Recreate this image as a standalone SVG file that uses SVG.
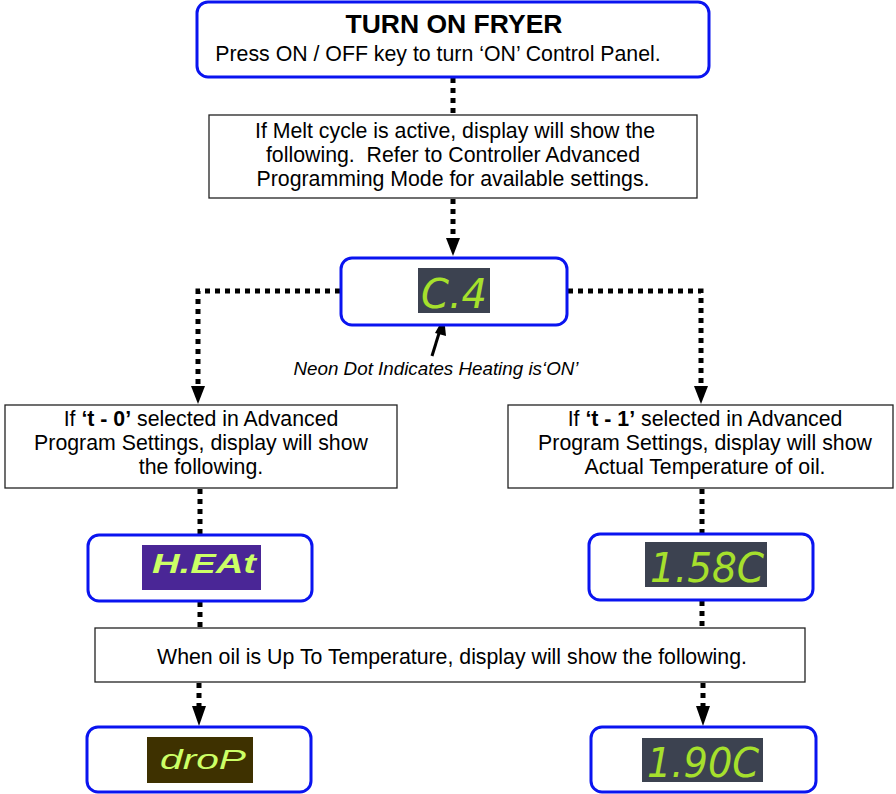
<svg xmlns="http://www.w3.org/2000/svg" width="896" height="794" viewBox="0 0 896 794">
<defs>
<style>
.rbox{fill:#fff;stroke:#0a14f0;stroke-width:3}
.box{fill:#fff;stroke:#222;stroke-width:1.3}
.t{font-family:"Liberation Sans",Arial,sans-serif;font-size:21.3px;fill:#000;text-anchor:middle;white-space:pre}
.dot{fill:none;stroke:#000;stroke-width:5;stroke-dasharray:5 5}
.lcd{fill:#3c4250}
.seg{font-family:"Liberation Sans Narrow","DejaVu Sans Condensed","Liberation Sans",sans-serif;font-size:40px;fill:#a6e02c;font-style:italic}
.disp{font-family:"Liberation Sans",Arial,sans-serif;fill:#ccff66;font-style:italic}
</style>
</defs>

<g id="connectors">
<line class="dot" x1="453" y1="78" x2="453" y2="114"/>
<line class="dot" x1="453" y1="199" x2="453" y2="240"/>
<polygon points="446,238 460,238 453,256" fill="#000"/>
<polyline class="dot" points="340,291 198,291 198,388"/>
<polygon points="191,386 205,386 198,404" fill="#000"/>
<polyline class="dot" points="568,291 701,291 701,388"/>
<polygon points="694,386 708,386 701,404" fill="#000"/>
<line class="dot" x1="200" y1="489" x2="200" y2="534"/>
<line class="dot" x1="702" y1="489" x2="702" y2="534"/>
<line class="dot" x1="200" y1="602" x2="200" y2="627"/>
<line class="dot" x1="702" y1="601" x2="702" y2="627"/>
<line class="dot" x1="199" y1="683" x2="199" y2="708"/>
<polygon points="192,706 206,706 199,726" fill="#000"/>
<line class="dot" x1="703" y1="683" x2="703" y2="708"/>
<polygon points="696,706 710,706 703,726" fill="#000"/>
<line x1="432" y1="356" x2="440" y2="330" stroke="#000" stroke-width="3"/>
<polygon points="435,333 446,336 444,317" fill="#000"/>
</g>

<g id="n-turn-on">
<rect class="rbox" x="197" y="2" width="512" height="75" rx="11"/>
<text x="454" y="33" class="t" style="font-size:26.5px;font-weight:bold">TURN ON FRYER</text>
<text x="438" y="61" class="t">Press ON / OFF key to turn ‘ON’ Control Panel.</text>
</g>

<g id="n-melt">
<rect class="box" x="209" y="115" width="488" height="83"/>
<text class="t" x="455" y="138">If Melt cycle is active, display will show the</text>
<text class="t" x="453" y="162">following.  Refer to Controller Advanced</text>
<text class="t" x="453" y="186">Programming Mode for available settings.</text>
</g>

<g id="n-cp">
<rect class="rbox" x="341" y="258" width="226" height="67" rx="11"/>
<rect class="lcd" x="418" y="268" width="72" height="45"/>
<text class="seg" x="421" y="308" textLength="66" lengthAdjust="spacingAndGlyphs">C.4</text>
</g>

<g id="n-neon-label">
<text x="436" y="375" class="t" style="font-size:18.8px;font-style:italic">Neon Dot Indicates Heating is‘ON’</text>
</g>

<g id="n-t0">
<rect class="box" x="5" y="405" width="392" height="83"/>
<text class="t" x="201" y="426">If <tspan font-weight="bold">‘t - 0’</tspan> selected in Advanced</text>
<text class="t" x="201" y="450">Program Settings, display will show</text>
<text class="t" x="201" y="474">the following.</text>
</g>

<g id="n-t1">
<rect class="box" x="508" y="405" width="385" height="83"/>
<text class="t" x="705" y="426">If <tspan font-weight="bold">‘t - 1’</tspan> selected in Advanced</text>
<text class="t" x="705" y="450">Program Settings, display will show</text>
<text class="t" x="705" y="474">Actual Temperature of oil.</text>
</g>

<g id="n-heat">
<rect class="rbox" x="88" y="535" width="224" height="66" rx="11"/>
<rect x="142" y="545" width="119" height="45" fill="#4a2696"/>
<text class="disp" x="152" y="573" textLength="104" lengthAdjust="spacingAndGlyphs" style="font-size:28px;font-weight:bold">H.EAt</text>
</g>

<g id="n-158">
<rect class="rbox" x="589" y="534" width="224" height="66" rx="11"/>
<rect class="lcd" x="645" y="542" width="122" height="45"/>
<text class="seg" x="650" y="582" textLength="114" lengthAdjust="spacingAndGlyphs">1.58C</text>
</g>

<g id="n-uptemp">
<rect class="box" x="95" y="628" width="710" height="54"/>
<text class="t" x="452" y="664">When oil is Up To Temperature, display will show the following.</text>
</g>

<g id="n-drop">
<rect class="rbox" x="87" y="727" width="224" height="65" rx="11"/>
<rect x="147" y="737" width="106" height="46" fill="#3e3100"/>
<text class="disp" x="160" y="769" textLength="86" lengthAdjust="spacingAndGlyphs" style="font-size:27px">droP</text>
</g>

<g id="n-190">
<rect class="rbox" x="591" y="727" width="225" height="65" rx="11"/>
<rect class="lcd" x="642" y="738" width="121" height="44"/>
<text class="seg" x="647" y="777" textLength="112" lengthAdjust="spacingAndGlyphs">1.90C</text>
</g>
</svg>
